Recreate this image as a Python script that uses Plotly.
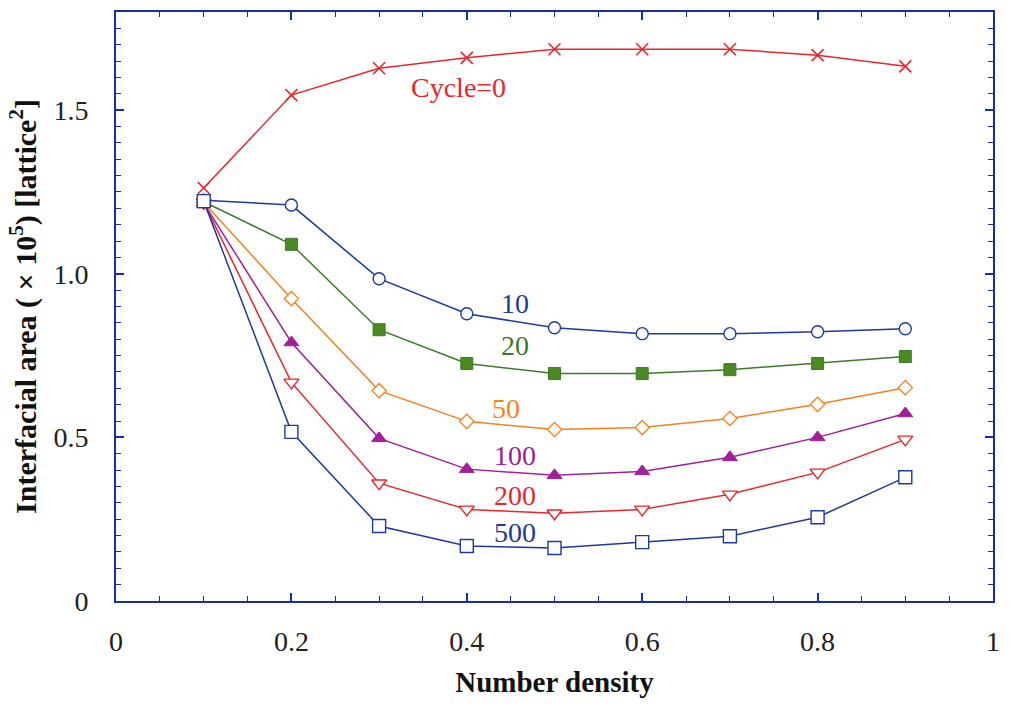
import plotly.graph_objects as go

density = [0.1, 0.2, 0.3, 0.4, 0.5, 0.6, 0.7, 0.8, 0.9]
cycle0 = [1.262, 1.546, 1.628, 1.660, 1.686, 1.686, 1.686, 1.668, 1.634]
cycle10 = [1.225, 1.210, 0.985, 0.878, 0.835, 0.817, 0.817, 0.823, 0.832]
cycle20 = [1.220, 1.090, 0.829, 0.726, 0.695, 0.695, 0.707, 0.726, 0.747]
cycle50 = [1.218, 0.924, 0.643, 0.549, 0.524, 0.530, 0.558, 0.601, 0.652]
cycle100 = [1.216, 0.790, 0.497, 0.403, 0.384, 0.396, 0.439, 0.500, 0.573]
cycle200 = [1.218, 0.668, 0.360, 0.280, 0.268, 0.280, 0.326, 0.393, 0.494]
cycle500 = [1.222, 0.517, 0.229, 0.168, 0.162, 0.180, 0.198, 0.256, 0.378]

labels = ["Cycle=0", "10", "20", "50", "100", "200", "500"]
label_x = [0.39, 0.455, 0.455, 0.445, 0.455, 0.455, 0.455]
label_y = [1.570, 0.909, 0.780, 0.588, 0.445, 0.323, 0.210]

x_tickvals = [0, 0.2, 0.4, 0.6, 0.8, 1.0]
x_ticktext = ["0", "0.2", "0.4", "0.6", "0.8", "1"]
y_tickvals = [0, 0.5, 1.0, 1.5]
y_ticktext = ["0", "0.5", "1.0", "1.5"]

RED = "#e8262c"
BLUE = "#1e3a9a"
GREEN = "#3d7a2c"
GREENFILL = "#4a8a22"
ORANGE = "#f5801f"
PURPLE = "#a0209a"

series = [
    (cycle0, RED, dict(symbol="x-thin", size=12, line=dict(color=RED, width=1.6))),
    (cycle10, BLUE, dict(symbol="circle", size=12, color="white", line=dict(color=BLUE, width=1.4))),
    (cycle20, GREEN, dict(symbol="square", size=12, color=GREENFILL, line=dict(color=GREEN, width=1))),
    (cycle50, ORANGE, dict(symbol="diamond", size=11, color="white", line=dict(color=ORANGE, width=1.3))),
    (cycle100, PURPLE, dict(symbol="triangle-up", size=13, color=PURPLE, line=dict(color=PURPLE, width=1))),
    (cycle200, RED, dict(symbol="triangle-down", size=13, color="white", line=dict(color=RED, width=1.4))),
    (cycle500, BLUE, dict(symbol="square", size=13, color="white", line=dict(color=BLUE, width=1.4))),
]

fig = go.Figure()
for (vals, col, mk), name in zip(series, labels):
    fig.add_trace(go.Scatter(x=density, y=vals, mode="lines+markers", name=name,
                             line=dict(color=col, width=1.5), marker=mk))

label_colors = [RED, BLUE, GREEN, ORANGE, PURPLE, RED, BLUE]
for t, lx, ly, c in zip(labels, label_x, label_y, label_colors):
    fig.add_annotation(x=lx, y=ly, text=t, showarrow=False,
                       font=dict(family="Liberation Serif", size=28, color=c))

axis_common = dict(
    showgrid=False, zeroline=False, showline=True, linecolor="#1a2f9c", linewidth=2,
    mirror="allticks", ticks="inside", tickcolor="#1a2f9c", tickwidth=1.5, ticklen=8,
    tickfont=dict(family="Liberation Serif", size=28, color="#222"),
)

fig.update_xaxes(range=[0, 1.0], tickvals=x_tickvals, ticktext=x_ticktext,
                 ticklabelstandoff=14,
                 minor=dict(dtick=0.05, ticks="inside", ticklen=5, tickcolor="#1a2f9c", tickwidth=1.2),
                 title=dict(text="<b>Number density</b>", font=dict(family="Liberation Serif", size=29, color="#111"), standoff=16),
                 **axis_common)
fig.update_yaxes(range=[0, 1.8], tickvals=y_tickvals, ticktext=y_ticktext,
                 ticklabelstandoff=20,
                 minor=dict(dtick=0.05, ticks="inside", ticklen=5, tickcolor="#1a2f9c", tickwidth=1.2),
                 title=dict(text="<b>Interfacial area ( × 10<sup>5</sup>) [lattice<sup>2</sup>]</b>",
                            font=dict(family="Liberation Serif", size=30, color="#111"), standoff=8),
                 **axis_common)

fig.update_layout(width=1010, height=704, margin=dict(l=116, r=12, t=10, b=103),
                  paper_bgcolor="white", plot_bgcolor="white", showlegend=False)

fig.write_html("out.html")
